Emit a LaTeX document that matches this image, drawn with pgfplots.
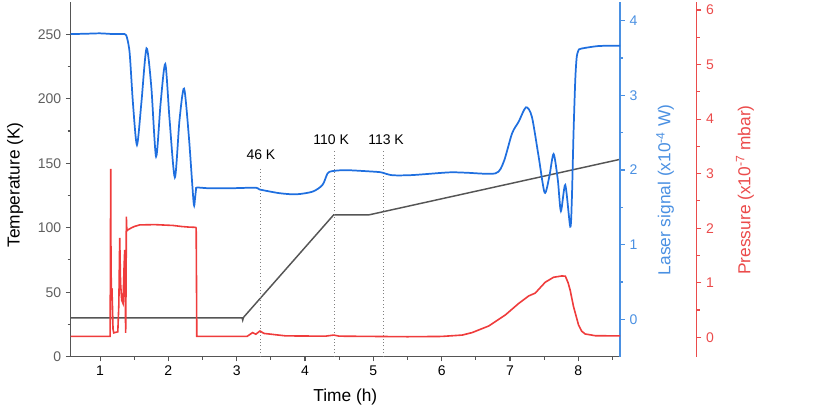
\documentclass[border=0pt]{standalone}
\usepackage{fontspec}
\setmainfont{Liberation Sans}
\usepackage{pgfplots}
\pgfplotsset{compat=1.18}

\definecolor{sigblue}{RGB}{31,111,223}
\definecolor{axblue}{RGB}{74,144,226}
\definecolor{presred}{RGB}{239,60,60}
\definecolor{axred}{RGB}{235,75,75}
\definecolor{tempgray}{RGB}{85,85,85}
\definecolor{labgray}{RGB}{95,95,95}

\newcommand{\labfont}{\fontsize{13}{15}\selectfont}

\pgfplotsset{
  base/.style={
    width=412pt, height=266pt, scale only axis,
    xmin=0.57, xmax=8.61,
    tick align=outside,
    major tick length=3.6pt, minor tick length=2.2pt,
    /pgf/number format/assume math mode=true,
    tick label style={font=\fontsize{10.5}{12}\selectfont},
  },
}

\begin{document}
\begin{tikzpicture}
\path[use as bounding box] (-53pt,-46pt) rectangle (569.5pt,267.5pt);

% temperature (left axis)
\begin{axis}[base,
  axis x line*=bottom, axis y line*=left,
  ymin=0, ymax=275,
  xtick={1,2,...,8}, minor xtick={1.5,2.5,...,8.5},
  ytick={0,50,...,250}, minor ytick={25,75,...,225},
  axis line style={draw=tempgray, line width=0.9pt},
  tick style={draw=tempgray, line width=0.8pt},
  yticklabel style={text=labgray},
  xlabel={Time (h)}, ylabel={Temperature (K)},
  every axis x label/.style={at={(axis description cs:0.5,-0.113)}, anchor=center, font=\labfont},
  every axis y label/.style={at={(axis description cs:-0.101,0.484)}, rotate=90, anchor=center, font=\labfont},
]
\addplot[tempgray, line width=1.1pt] coordinates {
  (0.57,30) (3.08,30) (3.088,28.3) (3.10,30.5) (4.42,110) (4.94,110) (8.61,153)
};
\draw[gray, dotted, line width=0.6pt] (axis cs:3.346,0) -- (axis cs:3.346,147);
\draw[gray, dotted, line width=0.6pt] (axis cs:4.427,0) -- (axis cs:4.427,159.6);
\draw[gray, dotted, line width=0.6pt] (axis cs:5.146,0) -- (axis cs:5.146,159.6);
\node[anchor=base, font=\fontsize{10.5}{12}\selectfont] at (axis cs:3.355,152.9) {46 K};
\node[anchor=base, font=\fontsize{10.5}{12}\selectfont] at (axis cs:4.383,164.8) {110 K};
\node[anchor=base, font=\fontsize{10.5}{12}\selectfont] at (axis cs:5.186,164.8) {113 K};
\end{axis}

% laser signal (first right axis)
\begin{axis}[base,
  hide x axis, axis y line*=right,
  ymin=-0.5, ymax=4.25,
  ytick={0,1,...,4}, minor ytick={0.5,1.5,2.5,3.5},
  axis line style={draw=axblue, line width=0.9pt},
  tick style={draw=axblue, line width=0.8pt},
  yticklabel style={text=axblue},
  ylabel={Laser signal (x10\textsuperscript{-4} W)},
  every axis y label/.style={at={(axis description cs:1.082,0.47)}, rotate=90, anchor=center, text=axblue, font=\labfont},
]
\addplot[sigblue, line width=1.3pt, smooth, tension=0.45] coordinates {
  (0.57,3.82) (0.8,3.825) (1.0,3.83) (1.2,3.82) (1.36,3.82) (1.395,3.77)
  (1.434,3.56) (1.482,2.89) (1.54,2.335) (1.604,2.89) (1.68,3.63) (1.75,3.116)
  (1.82,2.18) (1.886,2.89) (1.955,3.42) (2.018,2.67) (2.095,1.90) (2.163,2.67)
  (2.23,3.09) (2.30,2.446) (2.37,1.56) (2.39,1.62) (2.405,1.74) (2.42,1.765)
  (2.6,1.755) (2.893,1.755) (3.283,1.763) (3.33,1.74) (3.623,1.69) (3.867,1.674)
  (4.11,1.71) (4.256,1.80) (4.33,1.955) (4.40,1.985) (4.6,1.998) (5.035,1.976)
  (5.13,1.965) (5.277,1.93) (5.57,1.932) (6.105,1.968) (6.349,1.964) (6.787,1.955)
  (6.908,2.11) (7.03,2.49) (7.127,2.647) (7.234,2.84) (7.32,2.714) (7.419,2.18)
  (7.507,1.696) (7.575,1.91) (7.638,2.214) (7.70,1.866) (7.745,1.45) (7.809,1.80)
  (7.882,1.24) (7.905,1.6) (7.93,2.5) (7.955,3.2) (7.975,3.5) (8.0,3.6)
  (8.04,3.625) (8.295,3.66) (8.61,3.665)
};
\end{axis}

% pressure data
\begin{axis}[base, hide axis, ymin=-0.356, ymax=6.147]
\addplot[presred, line width=1.2pt] coordinates {
  (0.57,0.015) (1.148,0.015) (1.152,1.5) (1.156,3.085) (1.160,1.5) (1.166,0.74)
  (1.174,0.9) (1.181,0.6) (1.19,0.15) (1.20,0.08) (1.26,0.1) (1.275,0.6)
  (1.288,1.82) (1.30,1.0) (1.317,0.68) (1.336,0.62) (1.352,1.3) (1.361,1.6)
  (1.37,0.6) (1.375,0.08) (1.382,1.2) (1.385,2.21) (1.392,1.95) (1.409,1.97)
  (1.45,2.0) (1.5,2.03) (1.58,2.06) (1.8,2.065) (2.066,2.05) (2.2,2.03)
  (2.3,2.02) (2.4,2.015) (2.407,2.0) (2.416,0.015) (3.15,0.015) (3.233,0.085)
  (3.28,0.055) (3.34,0.115) (3.40,0.07) (3.72,0.025) (4.3,0.02) (4.42,0.04)
  (4.5,0.02) (5.5,0.01) (6.0,0.015) (6.3,0.04) (6.445,0.085) (6.689,0.207)
  (6.933,0.41) (7.127,0.62) (7.273,0.757) (7.37,0.81) (7.45,0.92) (7.517,1.01)
  (7.638,1.1) (7.76,1.124) (7.81,1.12) (7.85,1.0) (7.88,0.867) (7.93,0.56)
  (8.003,0.225) (8.05,0.11) (8.1,0.06) (8.25,0.028) (8.61,0.025)
};
\end{axis}

% pressure axis (offset)
\begin{axis}[base, at={(57.5pt,0)},
  hide x axis, axis y line*=right,
  ymin=-0.356, ymax=6.147,
  ytick={0,1,...,6}, minor ytick={0.5,1.5,...,5.5},
  axis line style={draw=axred, line width=0.9pt},
  tick style={draw=axred, line width=0.8pt},
  yticklabel style={text=axred},
  ylabel={Pressure (x10\textsuperscript{-7} mbar)},
  every axis y label/.style={at={(axis description cs:1.088,0.47)}, rotate=90, anchor=center, text=axred, font=\labfont},
]
\addplot[draw=none] coordinates {(1,0)};
\end{axis}
\end{tikzpicture}
\end{document}
